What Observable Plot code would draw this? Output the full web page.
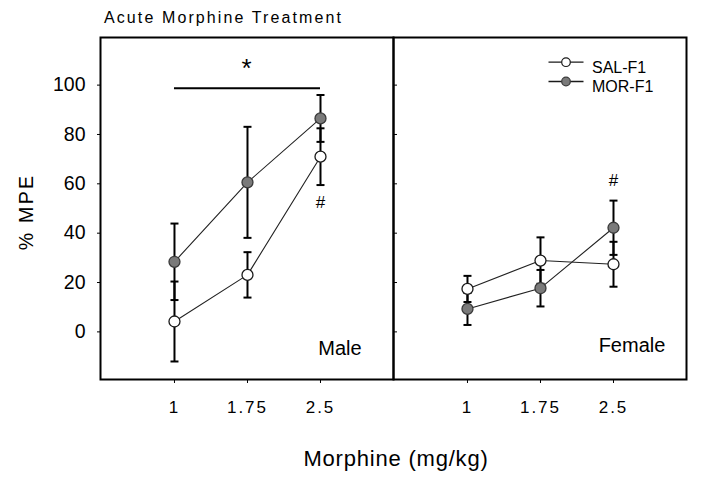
<!DOCTYPE html>
<html><head><meta charset="utf-8">
<script src="https://cdn.jsdelivr.net/npm/d3@7"></script>
<script src="https://cdn.jsdelivr.net/npm/@observablehq/plot@0.6"></script>
<style>
body{margin:0;background:#fff;}
#chart{position:relative;width:702px;height:483px;}
#chart svg{font-family:"Liberation Sans",Arial,sans-serif;}
</style></head><body><div id="chart"></div>
<script>
const doses = [1, 1.75, 2.5];
const doseLabels = ["1", "1.75", "2.5"];
const sexes = ["Male", "Female"];
const groups = ["SAL-F1", "MOR-F1"];
const yTicks = [0, 20, 40, 60, 80, 100];
const maleSAL = [4.2, 23.1, 71.0];
const maleSALerr = [16.2, 9.2, 11.5];
const maleMOR = [28.4, 60.6, 86.5];
const maleMORerr = [15.5, 22.5, 9.5];
const femaleSAL = [17.4, 28.9, 27.4];
const femaleSALerr = [5.3, 9.4, 9.1];
const femaleMOR = [9.3, 17.7, 42.2];
const femaleMORerr = [6.5, 7.4, 11.0];
const sigBars = [{sex: "Male", from: 1, to: 2.5, value: 98.7}];
const annotations = [
  {sex: "Male", dose: 1.74, value: 106.5, text: "*", size: 26},
  {sex: "Male", dose: 2.5, value: 52.4, text: "#", size: 17},
  {sex: "Female", dose: 2.5, value: 61.5, text: "#", size: 17},
  {sex: "Male", dose: 2.7, value: -6.6, text: "Male", size: 20},
  {sex: "Female", dose: 2.69, value: -5.5, text: "Female", size: 20}
];
const titleText = "Acute Morphine Treatment";
const xLabel = "Morphine (mg/kg)";
const yLabel = "% MPE";

const seriesTable = {
  Male: {"SAL-F1": [maleSAL, maleSALerr], "MOR-F1": [maleMOR, maleMORerr]},
  Female: {"SAL-F1": [femaleSAL, femaleSALerr], "MOR-F1": [femaleMOR, femaleMORerr]}
};
const points = [];
for (const sex of sexes) for (const group of groups) doses.forEach((dose, i) => {
  points.push({sex, group, dose, value: seriesTable[sex][group][0][i], err: seriesTable[sex][group][1][i]});
});
const caps = points.flatMap(d => [{...d, capY: d.value - d.err}, {...d, capY: d.value + d.err}]);
const fillOf = {"SAL-F1": "white", "MOR-F1": "#7a7a7a"};
const strokeOf = {"SAL-F1": "#1a1a1a", "MOR-F1": "#3a3a3a"};

const capSymbol = {draw(ctx) { ctx.moveTo(-4, 0); ctx.lineTo(4, 0); }};
const swatchLine = {draw(ctx) { ctx.moveTo(-17.5, 0); ctx.lineTo(17.5, 0); }};

const legendMarks = groups.flatMap((g, i) => {
  const item = [{sex: "Female", group: g}];
  const dy = 24.7 + i * 19.3;
  return [
    Plot.dot(item, {fx: "sex", frameAnchor: "top-left", dx: 172.5, dy, symbol: swatchLine, stroke: "#1a1a1a", strokeWidth: 1.3}),
    Plot.dot(item, {fx: "sex", frameAnchor: "top-left", dx: 172.5, dy, r: 4.3, fill: fillOf[g], stroke: strokeOf[g], strokeWidth: 1.2}),
    Plot.text(item, {fx: "sex", frameAnchor: "top-left", dx: 198.5, dy: dy - 0.5, text: "group", textAnchor: "start", fontSize: 16})
  ];
});

const plot = Plot.plot({
  width: 702, height: 483,
  marginLeft: 99, marginRight: 16, marginTop: 37, marginBottom: 104,
  style: {fontFamily: '"Liberation Sans", Arial, sans-serif', fontSize: "19px", color: "black", background: "white", overflow: "visible"},
  fx: {domain: sexes, padding: 0, axis: null},
  x: {domain: [0.24, 3.25]},
  y: {domain: [-19.3, 119.3]},
  marks: [
    Plot.axisY({ticks: yTicks, tickSize: 3, tickPadding: 12, label: null, fontSize: 19.5}),
    Plot.axisY({ticks: yTicks, tickSize: -4, facetAnchor: "right", fill: "none"}),
    Plot.axisX({ticks: doses, tickSize: 4, tickPadding: 17, tickFormat: d => doseLabels[doses.indexOf(d)], label: null, fontSize: 17}),
    Plot.ruleY(sigBars, {fx: "sex", x1: "from", x2: "to", y: "value", stroke: "black", strokeWidth: 2}),
    Plot.ruleX(points, {fx: "sex", x: "dose", y1: d => d.value - d.err, y2: d => d.value + d.err, stroke: "black", strokeWidth: 2}),
    Plot.dot(caps, {fx: "sex", x: "dose", y: "capY", symbol: capSymbol, stroke: "black", strokeWidth: 2}),
    Plot.line(points, {fx: "sex", x: "dose", y: "value", z: "group", stroke: "#222", strokeWidth: 1.1}),
    Plot.dot(points, {fx: "sex", x: "dose", y: "value", r: 5.5, fill: d => fillOf[d.group], stroke: d => strokeOf[d.group], strokeWidth: 1.3}),
    Plot.text(annotations, {fx: "sex", x: "dose", y: "value", text: "text", fontSize: d => d.size}),
    ...legendMarks,
    Plot.frame({stroke: "black", strokeWidth: 2})
  ]
});
document.getElementById("chart").appendChild(plot);

const svg = d3.select(plot);
svg.selectAll("[aria-label='x-axis tick label'] text").style("letter-spacing", "2px");
svg.append("text").attr("x", 104).attr("y", 23).attr("text-anchor", "start").attr("font-size", 16).style("letter-spacing", "2.1px").text(titleText);
svg.append("text").attr("x", 396).attr("y", 466).attr("text-anchor", "middle").attr("font-size", 22).style("letter-spacing", "0.8px").text(xLabel);
svg.append("text").attr("transform", "translate(33,212) rotate(-90)").attr("text-anchor", "middle").attr("font-size", 19.5).style("letter-spacing", "2.3px").text(yLabel);
</script></body></html>
